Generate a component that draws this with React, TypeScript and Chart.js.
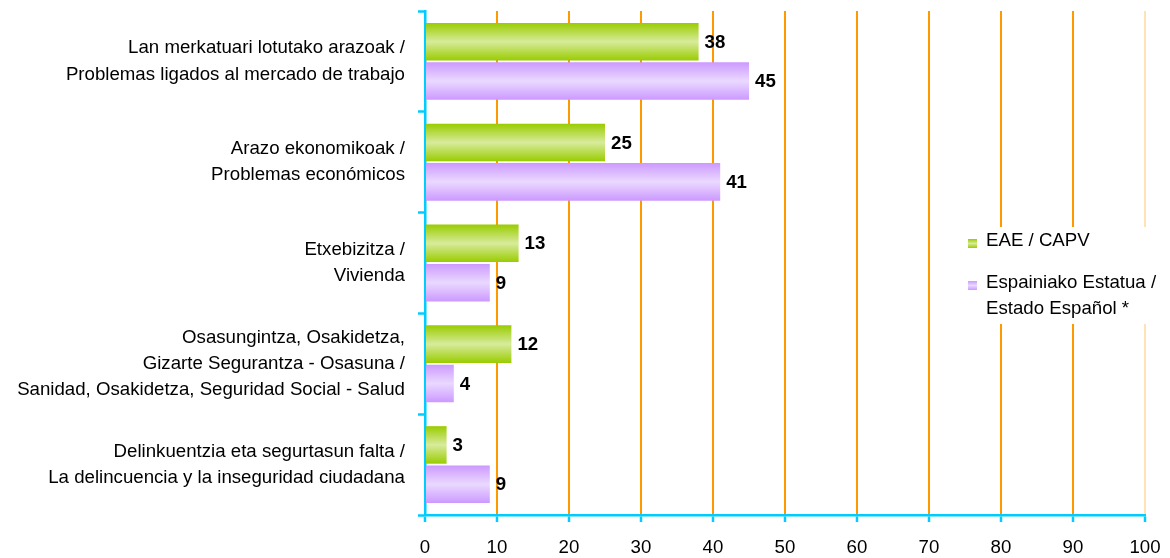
import React, { useEffect, useRef } from "react";
import { Chart, registerables } from "chart.js";

Chart.register(...registerables);

const categories: string[][] = [
  ["Lan merkatuari lotutako arazoak /", "Problemas ligados al mercado de trabajo"],
  ["Arazo ekonomikoak /", "Problemas económicos"],
  ["Etxebizitza /", "Vivienda"],
  ["Osasungintza, Osakidetza,", "Gizarte Segurantza - Osasuna /", "Sanidad, Osakidetza, Seguridad Social - Salud"],
  ["Delinkuentzia eta segurtasun falta /", "La delincuencia y la inseguridad ciudadana"],
];

const seriesNames = ["EAE / CAPV", "Espainiako Estatua / Estado Español *"];
const legendLines: string[][] = [["EAE / CAPV"], ["Espainiako Estatua /", "Estado Español *"]];

const capvValues = [38, 25, 13, 12, 3];
const spainValues = [45, 41, 9, 4, 9];

const xMin = 0;
const xMax = 100;
const xStep = 10;

const edgeColors = ["#99CC00", "#CC99FF"];
const centerColors = ["#D8EB9C", "#EAD9FF"];

const FONT = "'Liberation Sans', Arial, Helvetica, sans-serif";
const FS = 18.67;
const CYAN = "#00CCFF";
const ORANGE = "#FF9900";
const PALE_ORANGE = "#FFE2B8";

const gridColors = [ORANGE, ORANGE, ORANGE, ORANGE, ORANGE, ORANGE, ORANGE, ORANGE, ORANGE, ORANGE, PALE_ORANGE];

const gradientPlugin = {
  id: "barGradient",
  beforeDatasetsDraw(chart: any) {
    const ctx = chart.ctx;
    chart.data.datasets.forEach((_ds: any, di: number) => {
      const meta = chart.getDatasetMeta(di);
      meta.data.forEach((el: any) => {
        const y = el.y;
        const h = el.height;
        const g = ctx.createLinearGradient(0, y - h / 2, 0, y + h / 2);
        g.addColorStop(0, edgeColors[di]);
        g.addColorStop(0.5, centerColors[di]);
        g.addColorStop(1, edgeColors[di]);
        el.options.backgroundColor = g;
      });
    });
  },
};

const labelPlugin = {
  id: "barLabels",
  afterDatasetsDraw(chart: any) {
    const ctx = chart.ctx;
    ctx.save();
    ctx.font = `bold ${FS}px ${FONT}`;
    ctx.fillStyle = "#000";
    ctx.textAlign = "left";
    ctx.textBaseline = "middle";
    chart.data.datasets.forEach((ds: any, di: number) => {
      const meta = chart.getDatasetMeta(di);
      meta.data.forEach((el: any, i: number) => {
        ctx.fillText(String(ds.data[i]), el.x + 6, el.y + 1);
      });
    });
    ctx.restore();
  },
};

const legendPlugin = {
  id: "floatLegend",
  afterDraw(chart: any) {
    const ctx = chart.ctx;
    const area = chart.chartArea;
    const left = area.right - 190;
    const top = 227;
    ctx.save();
    ctx.fillStyle = "#fff";
    ctx.fillRect(left, top, chart.width - left, 97);
    ctx.font = `${FS}px ${FONT}`;
    ctx.textAlign = "left";
    ctx.textBaseline = "middle";
    const itemY = [241, 283];
    legendLines.forEach((lines, di) => {
      const my = itemY[di];
      const mx = left + 13;
      const g = ctx.createLinearGradient(0, my - 2, 0, my + 7);
      g.addColorStop(0, edgeColors[di]);
      g.addColorStop(0.5, centerColors[di]);
      g.addColorStop(1, edgeColors[di]);
      ctx.fillStyle = g;
      ctx.fillRect(mx, my - 2, 9, 9);
      ctx.fillStyle = "#000";
      lines.forEach((t, li) => {
        ctx.fillText(t, mx + 18, my + li * 26);
      });
    });
    ctx.restore();
  },
};

export default function App() {
  const canvasRef = useRef<HTMLCanvasElement | null>(null);

  useEffect(() => {
    document.body.style.margin = "0";
    const canvas = canvasRef.current;
    if (!canvas) return;
    const chart = new Chart(canvas, {
      type: "bar",
      data: {
        labels: categories,
        datasets: [
          {
            label: seriesNames[0],
            data: capvValues,
            backgroundColor: () => edgeColors[0],
            borderWidth: 0,
            categoryPercentage: 0.78,
            barPercentage: 0.955,
          },
          {
            label: seriesNames[1],
            data: spainValues,
            backgroundColor: () => edgeColors[1],
            borderWidth: 0,
            categoryPercentage: 0.78,
            barPercentage: 0.955,
          },
        ],
      },
      options: {
        indexAxis: "y",
        responsive: false,
        animation: false,
        devicePixelRatio: 1,
        events: [],
        layout: { padding: { top: 11, right: 25, left: 0, bottom: 0 } },
        plugins: {
          legend: { display: false },
          tooltip: { enabled: false },
          title: { display: false },
        },
        scales: {
          x: {
            type: "linear",
            min: xMin,
            max: xMax,
            ticks: {
              stepSize: xStep,
              color: "#000",
              font: { family: FONT, size: FS },
              padding: 15,
            },
            grid: {
              color: gridColors,
              lineWidth: 2,
              tickColor: CYAN,
              tickWidth: 2.5,
              tickLength: 7,
            },
            border: { color: CYAN, width: 2.5 },
            afterFit: (scale: any) => {
              scale.height = 43;
              scale.paddingLeft = 0;
              scale.paddingRight = 0;
              scale.paddingTop = 0;
              scale.paddingBottom = 0;
            },
          },
          y: {
            type: "category",
            ticks: {
              color: "#000",
              font: { family: FONT, size: FS, lineHeight: 1.4 },
              padding: 13,
              autoSkip: false,
            },
            grid: {
              drawOnChartArea: false,
              tickColor: CYAN,
              tickWidth: 2.5,
              tickLength: 7,
            },
            border: { color: CYAN, width: 2.5 },
            afterFit: (scale: any) => {
              scale.width = 425;
              scale.paddingTop = 0;
              scale.paddingBottom = 0;
              scale.paddingLeft = 0;
              scale.paddingRight = 0;
            },
          },
        },
      },
      plugins: [gradientPlugin, labelPlugin, legendPlugin],
    } as any);
    return () => chart.destroy();
  }, []);

  return (
    <div style={{ width: 1170, height: 558 }}>
      <canvas ref={canvasRef} width={1170} height={558} style={{ display: "block" }} />
    </div>
  );
}
